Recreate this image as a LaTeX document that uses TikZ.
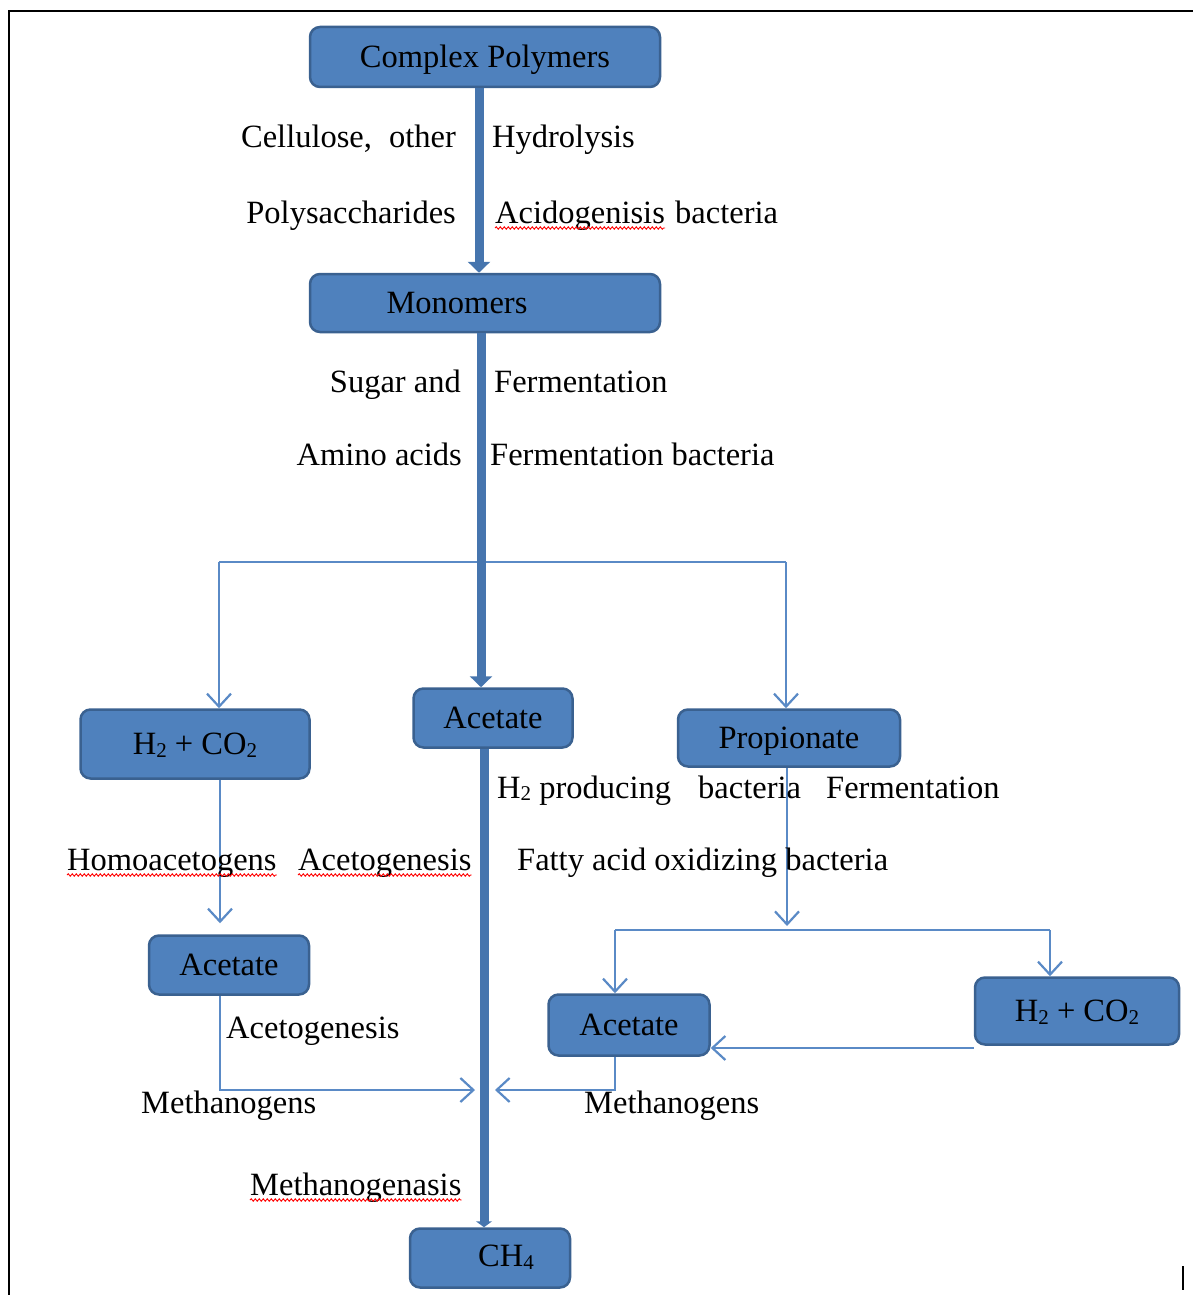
\documentclass[tikz,border=0pt]{standalone}
\usepackage{fontspec}
\setmainfont{Liberation Serif}
\usetikzlibrary{arrows.meta,decorations.pathmorphing,calc}
\definecolor{boxfill}{HTML}{4F81BD}
\definecolor{boxedge}{HTML}{3A6190}
\definecolor{thinblue}{HTML}{5A8AC6}
\definecolor{thickblue}{HTML}{4675AE}
\newcommand\mysub[1]{\raisebox{-2.5pt}{\fontsize{21}{21}\selectfont #1}}
\tikzset{
  box/.style={draw=boxedge, fill=boxfill, line width=2.5pt, rounded corners=10pt, inner sep=0pt,
    text height=25pt, text depth=4pt, font=\fontsize{32.5}{38}\selectfont},
  lbl/.style={inner sep=0pt, font=\fontsize{32.5}{38}\selectfont},
  thinln/.style={draw=thinblue, line width=2.2pt},
  thinarr/.style={thinln, -{Straight Barb[length=13pt,width=24pt,line width=2.2pt]}},
  thickln/.style={draw=thickblue, line width=9pt},
  thickarr/.style={thickln, -{Triangle[width=22pt,length=11pt]}},
  wavy/.style={draw=red, line width=0.9pt, decorate, decoration={snake, amplitude=1.2pt, segment length=4pt}},
}
\begin{document}
\begin{tikzpicture}[x=1pt,y=-1pt]
\useasboundingbox (0,0) rectangle (1193,1295);
% frame
\draw[line width=2.5pt] (9,1295) -- (9,11) -- (1193,11);
\draw[line width=2pt] (1183,1266) -- (1183,1290);

% boxes
\node[box, minimum width=350pt, minimum height=60pt] (cp) at (485,57) {Complex Polymers};
\node[box, minimum width=350pt, minimum height=58pt] (mono) at (485,303) {};
\node[lbl] (monot) at (457,303) {Monomers};
\node[box, minimum width=159pt, minimum height=59pt] (acm) at (493,718) {Acetate};
\node[box, minimum width=229pt, minimum height=69pt] (hl) at (195,744) {H\mysub{2} + CO\mysub{2}};
\node[box, minimum width=222pt, minimum height=57pt] (prop) at (789,738) {Propionate};
\node[box, minimum width=160pt, minimum height=59pt] (acl) at (229,965) {Acetate};
\node[box, minimum width=161pt, minimum height=61pt] (acr) at (629,1025) {Acetate};
\node[box, minimum width=204pt, minimum height=67pt] (hr) at (1077,1011) {H\mysub{2} + CO\mysub{2}};
\node[box, minimum width=160pt, minimum height=59pt] (ch4) at (490,1258) {};
\node[lbl] (ch4t) at (506,1257) {CH\mysub{4}};

% thin connectors
\coordinate (bl) at (219,562);
\coordinate (bm) at (481,562);
\coordinate (brr) at (786,562);
\draw[thinln] (bl) -- (brr);
\draw[thinarr] (bl) -- (219,0 |- hl.north);
\draw[thinarr] (brr) -- (786,0 |- prop.north);
\draw[thinarr, shorten >=11pt] (220,0 |- hl.south) -- (220,0 |- acl.north);
\coordinate (jl) at (475,1090);
\coordinate (jr) at (495,1090);
\draw[thinarr] (220,0 |- acl.south) |- (jl);
\draw[thinarr] (615,0 |- acr.south) |- (jr);
\coordinate (pj) at (787,930);
\coordinate (pl) at (615,930);
\coordinate (pr) at (1050,930);
\draw[thinarr] (787,0 |- prop.south) -- (787,926);
\draw[thinln] (pl) -- (pr);
\draw[thinarr] (pl) -- (615,0 |- acr.north);
\draw[thinarr] (pr) -- (1050,0 |- hr.north);
\draw[thinarr] (hr.west |- 0,1048) -- (acr.east |- 0,1048);

% thick main line
\draw[thickarr] (479,0 |- cp.south) -- (479,0 |- mono.north);
\draw[thickarr] (481,0 |- mono.south) -- (481,0 |- acm.north);
\draw[thickln, -{Triangle[width=16pt,length=6pt]}] (484,0 |- acm.south) -- (484,0 |- ch4.north);

% labels
\node[lbl, anchor=base east] (cell) at (456,147) {Cellulose,\hspace{17pt}other};
\node[lbl, anchor=base east] (poly) at (456,223) {Polysaccharides};
\node[lbl, anchor=base west] (hydro) at (492,147) {Hydrolysis};
\node[lbl, anchor=base west] (acid) at (495,223) {Acidogenisis};
\node[lbl, anchor=base west] (acidb) at (675,223) {bacteria};
\node[lbl, anchor=base east] (sugar) at (461,392) {Sugar and};
\node[lbl, anchor=base east] (amino) at (462,465) {Amino acids};
\node[lbl, anchor=base west] (ferm) at (494,392) {Fermentation};
\node[lbl, anchor=base west] (fermb) at (490,465) {Fermentation bacteria};
\node[lbl, anchor=base west] (h2p) at (497,798) {H\mysub{2} producing};
\node[lbl, anchor=base west] (h2b) at (698,798) {bacteria};
\node[lbl, anchor=base west] (h2f) at (826,798) {Fermentation};
\node[lbl, anchor=base west] (fatty) at (517,870) {Fatty acid oxidizing bacteria};
\node[lbl, anchor=base west] (homo) at (67,870) {Homoacetogens};
\node[lbl, anchor=base west] (acet1) at (298,870) {Acetogenesis};
\node[lbl, anchor=base west] (acet2) at (226,1038) {Acetogenesis};
\node[lbl, anchor=base west] (meth1) at (141,1113) {Methanogens};
\node[lbl, anchor=base west] (meth2) at (584,1113) {Methanogens};
\node[lbl, anchor=base west] (methg) at (250,1195) {Methanogenasis};

% spell-check underlines
\draw[wavy] ([yshift=-5pt]acid.base west) -- ([yshift=-5pt]acid.base east);
\draw[wavy] ([yshift=-5pt]homo.base west) -- ([yshift=-5pt]homo.base east);
\draw[wavy] ([yshift=-5pt]acet1.base west) -- ([yshift=-5pt]acet1.base east);
\draw[wavy] ([yshift=-5pt]methg.base west) -- ([yshift=-5pt]methg.base east);
\end{tikzpicture}
\end{document}
